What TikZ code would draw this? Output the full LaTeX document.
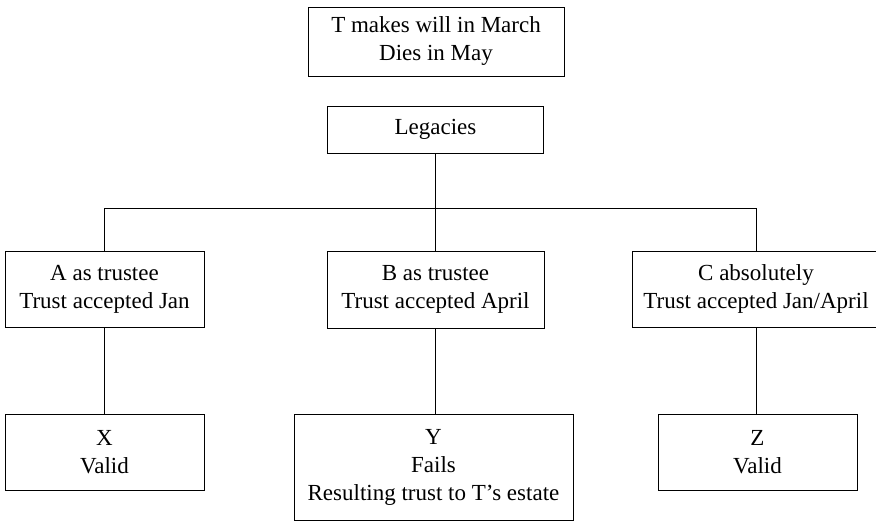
\documentclass[tikz,border=0pt]{standalone}
\usepackage{fontspec}
\setmainfont{Liberation Serif}
\begin{document}
\begin{tikzpicture}[x=1pt,y=-1pt,
  box/.style={draw, line width=0.8pt, align=center, inner sep=0pt,
    font=\fontsize{23}{28}\selectfont},
  link/.style={line width=0.8pt}]
\useasboundingbox (0,0) rectangle (876,522);

% facts and the legacies they give rise to
\node[box, minimum width=256, minimum height=69] (will) at (436,41.5)
  {T makes will in March\\Dies in May};
\node[box, minimum width=216, minimum height=47] (leg) at (435.5,129.5)
  {Legacies};

% the three legatees
\node[box, minimum width=199, minimum height=76] (A) at (104.5,289)
  {A as trustee\\Trust accepted Jan};
\node[box, minimum width=217, minimum height=77] (B) at (435.5,289.5)
  {B as trustee\\Trust accepted April};
\node[box, minimum width=248, minimum height=76] (C) at (756,289)
  {C absolutely\\Trust accepted Jan/April};

% outcomes
\node[box, minimum width=199, minimum height=76] (X) at (104.5,452)
  {X\\Valid};
\node[box, minimum width=279, minimum height=106] (Y) at (433.5,467)
  {Y\\Fails\\Resulting trust to T’s estate};
\node[box, minimum width=199, minimum height=76] (Z) at (757.5,452)
  {Z\\Valid};

% branching bus under the legacies
\coordinate (busA) at (104.5,208);
\coordinate (busC) at (756,208);
\draw[link] (leg.south) -- (B.north);
\draw[link] (A.north) -- (busA) -- (busC) -- (C.north);

% each legacy to its outcome
\draw[link] (A.south) -- (A.south |- X.north);
\draw[link] (B.south) -- (B.south |- Y.north);
\draw[link] (C.south) -- (C.south |- Z.north);
\end{tikzpicture}
\end{document}
